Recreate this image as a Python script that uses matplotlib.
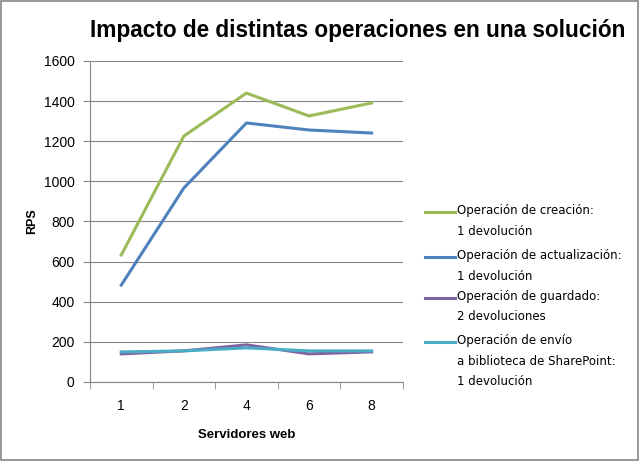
import matplotlib
matplotlib.use("Agg")
from matplotlib import pyplot as plt
from matplotlib.lines import Line2D
from matplotlib.patches import Rectangle

servers = ["1", "2", "4", "6", "8"]
creacion = [633, 1226, 1440, 1326, 1391]
actualizacion = [483, 967, 1291, 1256, 1241]
guardado = [140, 155, 185, 140, 150]
envio = [150, 155, 170, 155, 155]

labels = [
    "Operación de creación:\n1 devolución",
    "Operación de actualización:\n1 devolución",
    "Operación de guardado:\n2 devoluciones",
    "Operación de envío\na biblioteca de SharePoint:\n1 devolución",
]
colors = ["#9BBB59", "#4F81BD", "#8064A2", "#4BACC6"]

plt.rcParams["font.family"] = ["Liberation Sans", "DejaVu Sans"]

W, H = 640, 461
fig = plt.figure(figsize=(6.4, 4.61), dpi=100)
ax = fig.add_axes([0.1406, 0.1714, 0.489, 0.6963])

x = list(range(len(servers)))
for values, label, color in zip([creacion, actualizacion, guardado, envio], labels, colors):
    ax.plot(x, values, color=color, linewidth=2.2, label=label)

ax.set_xlim(-0.5, len(servers) - 0.5)
ax.set_ylim(0, 1600)
ax.set_yticks(range(0, 1601, 200))
ax.set_xticks(x)
ax.set_xticklabels(servers)
ax.set_xticks([i - 0.5 for i in range(len(servers) + 1)], minor=True)
ax.tick_params(axis="x", which="major", length=0, pad=12, labelsize=10)
ax.tick_params(axis="x", which="minor", length=5, color="#868686", direction="out")
ax.tick_params(axis="y", length=5, color="#868686", labelsize=10, pad=6)
ax.grid(axis="y", color="#868686", linewidth=0.8)
ax.set_axisbelow(True)
for side in ["top", "right"]:
    ax.spines[side].set_visible(False)
for side in ["left", "bottom"]:
    ax.spines[side].set_color("#868686")

ax.set_ylabel("RPS", fontweight="bold", fontsize=9, labelpad=4)
ax.set_xlabel("Servidores web", fontweight="bold", fontsize=9.5, labelpad=12)

fig.text(90 / W, 1 - 30 / H, "Impacto de distintas operaciones en una solución",
         fontsize=16.3, fontweight="bold", va="center")

# legend drawn by hand so the line sits next to the first text row
entry_tops = [212, 257, 298, 342]
for top, label, color in zip(entry_tops, labels, colors):
    y = 1 - top / H
    fig.add_artist(Line2D([425 / W, 455 / W], [y, y], color=color, linewidth=2.2))
    fig.text(457 / W, y + 8 / H, label, fontsize=8.5, va="top", ha="left",
             linespacing=1.75, family=["DejaVu Sans"])

fig.patches.append(Rectangle((0.002, 0.003), 0.995, 0.994, transform=fig.transFigure,
                             fill=False, edgecolor="#868686", linewidth=1.2))

fig.savefig("out.png")
